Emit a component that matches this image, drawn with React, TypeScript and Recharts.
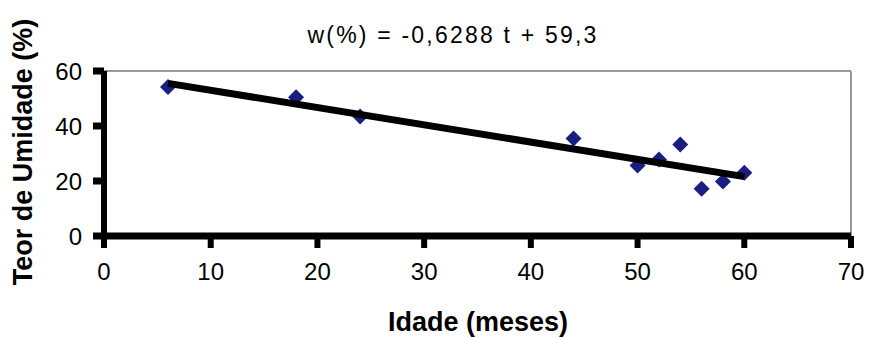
import {
  ComposedChart,
  Scatter,
  XAxis,
  YAxis,
  ReferenceLine,
} from 'recharts';

// measured points: age (months) vs moisture content (%)
const ages = [6, 18, 24, 44, 50, 52, 54, 56, 58, 60];
const moisture = [54.2, 50.5, 43.5, 35.5, 25.6, 27.8, 33.3, 17.2, 19.8, 23];

// fitted line, read at its two ends
const trendAges = [6, 60];
const trendValues = [55.5, 21.6];

const xTicks = [0, 10, 20, 30, 40, 50, 60, 70];
const yTicks = [0, 20, 40, 60];

const TITLE = 'w(%) = -0,6288 t + 59,3';
const X_LABEL = 'Idade (meses)';
const Y_LABEL = 'Teor de Umidade (%)';

const FONT = '"Liberation Sans", Arial, sans-serif';
const MARKER = '#1a1e80';

const points = ages.map((a, i) => ({ x: a, y: moisture[i] }));
const trend = trendAges.map((a, i) => ({ x: a, y: trendValues[i] }));

function Diamond(props: any) {
  const { cx, cy } = props;
  if (cx == null || cy == null) return <g />;
  const r = 8;
  return (
    <path
      d={`M${cx},${cy - r} L${cx + r},${cy} L${cx},${cy + r} L${cx - r},${cy} Z`}
      fill={MARKER}
    />
  );
}

export default function App() {
  const tickStyle = { fill: '#000', fontSize: 24, fontFamily: FONT };

  return (
    <div style={{ position: 'absolute', left: 0, top: 0, width: 869, height: 338, background: '#fff' }}>
      <ComposedChart
        width={869}
        height={338}
        margin={{ top: 71, right: 18, bottom: 42, left: 44 }}
      >
        <XAxis
          type="number"
          dataKey="x"
          domain={[0, 70]}
          ticks={xTicks}
          interval={0}
          height={60}
          tick={tickStyle}
          tickSize={12}
          tickMargin={15}
          tickLine={{ stroke: '#000', strokeWidth: 6 }}
          axisLine={{ stroke: '#000', strokeWidth: 7 }}
        />
        <YAxis
          type="number"
          dataKey="y"
          domain={[0, 60]}
          ticks={yTicks}
          interval={0}
          width={60}
          tick={tickStyle}
          tickSize={11}
          tickMargin={11}
          tickLine={{ stroke: '#000', strokeWidth: 7 }}
          axisLine={{ stroke: '#000', strokeWidth: 6 }}
        />
        <ReferenceLine y={60} stroke="#9a9a9a" strokeWidth={2} />
        <ReferenceLine x={70} stroke="#9a9a9a" strokeWidth={2} />
        <Scatter data={points} shape={<Diamond />} isAnimationActive={false} />
        <Scatter
          data={trend}
          shape={() => <g />}
          line={{ stroke: '#000', strokeWidth: 7 }}
          lineType="joint"
          isAnimationActive={false}
        />
      </ComposedChart>

      {/* titles */}
      <div
        style={{
          position: 'absolute',
          left: 453,
          top: 35,
          transform: 'translate(-50%, -50%)',
          fontFamily: FONT,
          fontSize: 23,
          letterSpacing: 2.2,
          lineHeight: 1,
          whiteSpace: 'nowrap',
        }}
      >
        {TITLE}
      </div>
      <div
        style={{
          position: 'absolute',
          left: 478,
          top: 322,
          transform: 'translate(-50%, -50%)',
          fontFamily: FONT,
          fontSize: 27,
          fontWeight: 'bold',
          lineHeight: 1,
          whiteSpace: 'nowrap',
        }}
      >
        {X_LABEL}
      </div>
      <div
        style={{
          position: 'absolute',
          left: 23,
          top: 152,
          transform: 'translate(-50%, -50%) rotate(-90deg)',
          fontFamily: FONT,
          fontSize: 27,
          fontWeight: 'bold',
          lineHeight: 1,
          whiteSpace: 'nowrap',
        }}
      >
        {Y_LABEL}
      </div>
    </div>
  );
}
